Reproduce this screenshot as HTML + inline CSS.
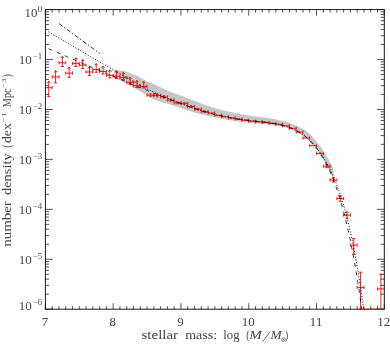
<!DOCTYPE html>
<html><head><meta charset="utf-8"><title>plot</title>
<style>
html,body{margin:0;padding:0;background:#fff;}
body{width:390px;height:351px;position:relative;overflow:hidden;}
svg{display:block}
</style></head><body>
<svg width="390" height="351" viewBox="0 0 390 351" style="position:absolute;left:0;top:0">
<rect width="390" height="351" fill="#fff"/>
<polygon fill="#c6c6c6" points="114.4,70.3 124.7,70.9 137.5,76.0 146.5,81.2 155.4,84.8 165.0,89.6 170.8,92.0 180.4,95.4 186.2,97.7 195.8,101.5 205.4,104.9 211.2,106.9 220.8,109.7 225.0,110.8 236.2,113.3 250.0,115.8 255.4,116.4 270.8,118.4 286.2,121.5 297.1,126.0 304.0,129.6 309.8,134.0 315.5,140.2 320.9,147.1 325.5,154.0 329.4,161.0 333.0,167.4 333.8,173.6 333.6,177.7 332.5,177.7 331.0,173.6 327.4,166.6 323.2,159.9 315.5,148.7 308.6,140.7 304.0,136.8 299.1,133.4 292.3,130.0 286.2,127.6 270.8,124.8 255.4,123.4 250.0,123.1 236.2,121.2 225.0,119.2 220.8,118.5 211.2,116.6 205.4,115.3 195.8,113.1 186.2,109.7 180.4,107.7 170.8,104.8 165.0,103.1 158.0,101.0 151.6,98.5 142.6,92.7 133.6,87.6 124.7,82.4 114.4,78.0"/>
<clipPath id="c"><rect x="45.4" y="9.6" width="338.90000000000003" height="300.09999999999997"/></clipPath>
<g clip-path="url(#c)" fill="none" stroke="#f00" stroke-width="0.9">
<path d="M45.40,87.70H52.18M45.40,86.10V89.30M52.18,86.10V89.30M48.79,81.20V96.70M47.29,83.00L48.79,81.20L50.29,83.00M47.19,96.70H50.39M52.18,76.90H58.96M52.18,75.30V78.50M58.96,75.30V78.50M55.57,70.60V82.90M54.07,72.40L55.57,70.60L57.07,72.40M53.97,82.90H57.17M58.95,62.80H65.73M58.95,61.20V64.40M65.73,61.20V64.40M62.34,56.30V66.50M60.84,58.10L62.34,56.30L63.84,58.10M60.74,66.50H63.95M65.73,73.10H72.51M65.73,71.50V74.70M72.51,71.50V74.70M69.12,66.90V77.40M67.62,68.70L69.12,66.90L70.62,68.70M67.52,77.40H70.72M72.51,63.40H79.29M72.51,61.80V65.00M79.29,61.80V65.00M75.90,57.70V66.50M74.40,59.50L75.90,57.70L77.40,59.50M74.30,66.50H77.50M79.29,65.10H86.07M79.29,63.50V66.70M86.07,63.50V66.70M82.68,59.50V68.50M81.18,61.30L82.68,59.50L84.18,61.30M81.08,68.50H84.28M86.07,72.00H92.85M86.07,70.40V73.60M92.85,70.40V73.60M89.46,66.50V75.40M87.96,68.30L89.46,66.50L90.96,68.30M87.86,75.40H91.06M92.84,69.50H99.62M92.84,67.90V71.10M99.62,67.90V71.10M96.23,63.50V72.30M94.73,65.30L96.23,63.50L97.73,65.30M94.64,72.30H97.83M99.62,71.50H106.40M99.62,69.90V73.10M106.40,69.90V73.10M103.01,66.00V74.00M101.51,67.80L103.01,66.00L104.51,67.80M101.41,74.00H104.61M106.40,75.40H113.18M106.40,73.80V77.00M113.18,73.80V77.00M109.79,69.90V77.90M108.29,71.70L109.79,69.90L111.29,71.70M108.19,77.90H111.39M113.18,76.20H119.96M113.18,74.60V77.80M119.96,74.60V77.80M116.57,70.70V78.40M115.07,72.50L116.57,70.70L118.07,72.50M114.97,78.40H118.17M119.96,77.70H126.74M119.96,76.10V79.30M126.74,76.10V79.30M123.35,72.20V79.70M121.85,74.00L123.35,72.20L124.85,74.00M121.75,79.70H124.95M126.73,82.30H133.51M126.73,80.70V83.90M133.51,80.70V83.90M130.12,77.00V84.30M128.62,78.80L130.12,77.00L131.62,78.80M128.53,84.30H131.72M133.51,85.70H140.29M133.51,84.10V87.30M140.29,84.10V87.30M136.90,80.40V87.50M135.40,82.20L136.90,80.40L138.40,82.20M135.30,87.50H138.50M140.29,86.40H147.07M140.29,84.80V88.00M147.07,84.80V88.00M143.68,81.40V88.00M142.18,83.20L143.68,81.40L145.18,83.20M142.08,88.00H145.28M147.07,95.20H153.85M147.07,93.60V96.80M153.85,93.60V96.80M150.46,93.80V96.60M149.36,93.80H151.56M149.36,96.60H151.56M153.85,95.50H160.63M153.85,93.90V97.10M160.63,93.90V97.10M157.24,94.10V96.90M156.14,94.10H158.34M156.14,96.90H158.34M160.63,96.90H167.41M160.63,95.30V98.50M167.41,95.30V98.50M164.02,95.70V98.10M162.92,95.70H165.12M162.92,98.10H165.12M167.40,100.00H174.18M167.40,98.40V101.60M174.18,98.40V101.60M170.79,98.90V101.10M169.69,98.90H171.89M169.69,101.10H171.89M174.18,102.80H180.96M174.18,101.20V104.40M180.96,101.20V104.40M177.57,101.80V103.80M176.47,101.80H178.67M176.47,103.80H178.67M180.96,103.40H187.74M180.96,101.80V105.00M187.74,101.80V105.00M184.35,102.50V104.30M183.25,102.50H185.45M183.25,104.30H185.45M187.74,106.50H194.52M187.74,104.90V108.10M194.52,104.90V108.10M191.13,105.60V107.40M190.03,105.60H192.23M190.03,107.40H192.23M194.52,109.20H201.30M194.52,107.60V110.80M201.30,107.60V110.80M197.91,108.40V110.00M196.81,108.40H199.01M196.81,110.00H199.01M201.29,111.60H208.07M201.29,110.00V113.20M208.07,110.00V113.20M204.68,110.85V112.35M203.58,110.85H205.78M203.58,112.35H205.78M208.07,113.00H214.85M208.07,111.40V114.60M214.85,111.40V114.60M214.85,115.30H221.63M214.85,113.70V116.90M221.63,113.70V116.90M221.63,116.70H228.41M221.63,115.10V118.30M228.41,115.10V118.30M228.41,117.90H235.19M228.41,116.30V119.50M235.19,116.30V119.50M235.18,119.20H241.96M235.18,117.60V120.80M241.96,117.60V120.80M241.96,120.30H248.74M241.96,118.70V121.90M248.74,118.70V121.90M248.74,121.20H255.52M248.74,119.60V122.80M255.52,119.60V122.80M255.52,121.90H262.30M255.52,120.30V123.50M262.30,120.30V123.50M262.30,122.40H269.07M262.30,120.80V124.00M269.07,120.80V124.00M269.07,123.50H275.85M269.07,121.90V125.10M275.85,121.90V125.10M275.85,124.20H282.63M275.85,122.60V125.80M282.63,122.60V125.80M282.63,125.80H289.41M282.63,124.20V127.40M289.41,124.20V127.40M289.41,128.30H296.19M289.41,126.70V129.90M296.19,126.70V129.90M296.19,132.10H302.97M296.19,130.50V133.70M302.97,130.50V133.70M302.96,138.00H309.74M302.96,136.40V139.60M309.74,136.40V139.60M309.74,145.70H316.52M309.74,144.10V147.30M316.52,144.10V147.30M316.52,153.50H323.30M316.52,151.90V155.10M323.30,151.90V155.10M323.30,166.20H330.08M323.30,164.60V167.80M330.08,164.60V167.80M326.69,164.70V167.70M325.09,164.70H328.29M325.09,167.70H328.29M330.07,180.00H336.85M330.07,178.40V181.60M336.85,178.40V181.60M333.46,178.00V182.00M331.86,178.00H335.06M331.86,182.00H335.06M336.85,198.50H343.63M336.85,196.90V200.10M343.63,196.90V200.10M340.24,195.90V201.30M338.64,195.90H341.84M338.64,201.30H341.84M343.63,215.10H350.41M343.63,213.50V216.70M350.41,213.50V216.70M347.02,211.90V218.70M345.42,211.90H348.62M345.42,218.70H348.62M350.41,245.10H357.19M350.41,243.50V246.70M357.19,243.50V246.70M353.80,238.50V254.20M352.20,238.50H355.40M352.20,254.20H355.40M357.19,287.40H363.97M357.19,285.80V289.00M363.97,285.80V289.00M360.58,272.20V687.40M358.98,272.20H362.18M358.98,687.40H362.18M377.52,288.90H384.30M377.52,287.30V290.50M384.30,287.30V290.50M380.91,274.30V688.90M379.31,274.30H382.51M379.31,688.90H382.51"/>
</g>
<g clip-path="url(#c)" fill="none" stroke="#000" stroke-width="0.8">
<path d="M48.59,48.83 L49.94,49.41 L51.30,49.98 L52.65,50.56 L54.01,51.14 L55.36,51.72 L56.72,52.30 L58.07,52.88 L59.43,53.46 L60.79,54.03 L62.14,54.61 L63.50,55.19 L64.85,55.77 L66.21,56.35 L67.56,56.93 L68.92,57.50 L70.28,58.08 L71.63,58.66 L72.99,59.24 L74.34,59.82 L75.70,60.39 L77.05,60.97 L78.41,61.55 L79.76,62.13 L81.12,62.70 L82.48,63.28 L83.83,63.86 L85.19,64.44 L86.54,65.01 L87.90,65.59 L89.25,66.17 L90.61,66.74 L91.96,67.32 L93.32,67.89 L94.68,68.47 L96.03,69.05 L97.39,69.62 L98.74,70.20 L100.10,70.77 L101.45,71.35 L102.81,71.92 L104.17,72.50 L105.52,73.07 L106.88,73.65 L108.23,74.22 L109.59,74.79 L110.94,75.37 L112.30,75.94 L113.65,76.51 L115.01,77.09 L116.37,77.66 L117.72,78.23 L119.08,78.80 L120.43,79.37 L121.79,79.94 L123.14,80.51 L124.50,81.08 L125.85,81.65 L127.21,82.22 L128.57,82.79 L129.92,83.35 L131.28,83.92 L132.63,84.48 L133.99,85.05 L135.34,85.61 L136.70,86.18 L138.06,86.74 L139.41,87.30 L140.77,87.86 L142.12,88.42 L143.48,88.98 L144.83,89.54 L146.19,90.09 L147.54,90.65 L148.90,91.20 L150.26,91.76 L151.61,92.31 L152.97,92.86 L154.32,93.40 L155.68,93.95 L157.03,94.50 L158.39,95.04 L159.74,95.58 L161.10,96.12 L162.46,96.66 L163.81,97.19 L165.17,97.72 L166.52,98.25 L167.88,98.78 L169.23,99.31 L170.59,99.83 L171.95,100.35 L173.30,100.87 L174.66,101.38 L176.01,101.89 L177.37,102.40 L178.72,102.90 L180.08,103.40 L181.43,103.90 L182.79,104.39 L184.15,104.88 L185.50,105.36 L186.86,105.84 L188.21,106.32 L189.57,106.79 L190.92,107.25 L192.28,107.71 L193.63,108.16 L194.99,108.61 L196.35,109.06 L197.70,109.49 L199.06,109.92 L200.41,110.35 L201.77,110.77 L203.12,111.18 L204.48,111.58 L205.84,111.98 L207.19,112.37 L208.55,112.75 L209.90,113.13 L211.26,113.50 L212.61,113.85 L213.97,114.21 L215.32,114.55 L216.68,114.88 L218.04,115.21 L219.39,115.53 L220.75,115.84 L222.10,116.14 L223.46,116.43 L224.81,116.72 L226.17,116.99 L227.52,117.26 L228.88,117.51 L230.24,117.76 L231.59,118.00 L232.95,118.24 L234.30,118.46 L235.66,118.68 L237.01,118.89 L238.37,119.09 L239.73,119.28 L241.08,119.47 L242.44,119.65 L243.79,119.83 L245.15,120.00 L246.50,120.16 L247.86,120.32 L249.21,120.48 L250.57,120.63 L251.93,120.78 L253.28,120.93 L254.64,121.07 L255.99,121.22 L257.35,121.36 L258.70,121.51 L260.06,121.65 L261.41,121.80 L262.77,121.96 L264.13,122.12 L265.48,122.28 L266.84,122.45 L268.19,122.63 L269.55,122.82 L270.90,123.01 L272.26,123.22 L273.62,123.45 L274.97,123.68 L276.33,123.93 L277.68,124.20 L279.04,124.49 L280.39,124.80 L281.75,125.13 L283.10,125.48 L284.46,125.86 L285.82,126.27 L287.17,126.70 L288.53,127.17 L289.88,127.67 L291.24,128.20 L292.59,128.77 L293.95,129.38 L295.30,130.04 L296.66,130.74 L298.02,131.48 L299.37,132.28 L300.73,133.13 L302.08,134.03 L303.44,135.00 L304.79,136.02 L306.15,137.11 L307.51,138.27 L308.86,139.50 L310.22,140.81 L311.57,142.20 L312.93,143.67 L314.28,145.23 L315.64,146.88 L316.99,148.63 L318.35,150.48 L319.71,152.44 L321.06,154.52 L322.42,156.71 L323.77,159.02 L325.13,161.47 L326.48,164.05 L327.84,166.77 L329.19,169.65 L330.55,172.68 L331.91,175.88 L333.26,179.25 L334.62,182.80 L335.97,186.54 L337.33,190.48 L338.68,194.63 L340.04,198.99 L341.40,203.59 L342.75,208.42 L344.11,213.51 L345.46,218.86 L346.82,224.48 L348.17,230.39 L349.53,236.61 L350.88,243.14 L352.24,250.00 L353.60,257.22 L354.95,264.79 L356.31,272.75 L357.66,281.10 L359.02,289.87 L360.37,299.08 L361.73,308.75 L363.08,318.90 L364.44,324.18" stroke-dasharray="4.0 4.75"/>
<path d="M48.45,31.80 L49.81,32.60 L51.16,33.39 L52.52,34.19 L53.87,34.99 L55.23,35.79 L56.58,36.59 L57.94,37.39 L59.29,38.18 L60.65,38.98 L62.01,39.78 L63.36,40.58 L64.72,41.38 L66.07,42.17 L67.43,42.97 L68.78,43.77 L70.14,44.57 L71.50,45.36 L72.85,46.16 L74.21,46.96 L75.56,47.76 L76.92,48.55 L78.27,49.35 L79.63,50.15 L80.98,50.95 L82.34,51.74 L83.70,52.54 L85.05,53.34 L86.41,54.13 L87.76,54.93 L89.12,55.72 L90.47,56.52 L91.83,57.32 L93.18,58.11 L94.54,58.91 L95.90,59.70 L97.25,60.50 L98.61,61.29 L99.96,62.09 L101.32,62.88 L102.67,63.67 L104.03,64.47 L105.39,65.26 L106.74,66.05 L108.10,66.84 L109.45,67.63 L110.81,68.42 L112.16,69.21 L113.52,70.00 L114.87,70.79 L116.23,71.58 L117.59,72.36 L118.94,73.15 L120.30,73.93 L121.65,74.71 L123.01,75.49 L124.36,76.27 L125.72,77.05 L127.07,77.82 L128.43,78.60 L129.79,79.37 L131.14,80.13 L132.50,80.90 L133.85,81.65 L135.21,82.41 L136.56,83.16 L137.92,83.91 L139.28,84.65 L140.63,85.38 L141.99,86.11 L143.34,86.83 L144.70,87.55 L146.05,88.26 L147.41,88.96 L148.76,89.65 L150.12,90.33 L151.48,91.01 L152.83,91.67 L154.19,92.33 L155.54,92.97 L156.90,93.61 L158.25,94.24 L159.61,94.86 L160.96,95.47 L162.32,96.07 L163.68,96.67 L165.03,97.26 L166.39,97.83 L167.74,98.40 L169.10,98.97 L170.45,99.53 L171.81,100.08 L173.17,100.62 L174.52,101.16 L175.88,101.69 L177.23,102.22 L178.59,102.74 L179.94,103.25 L181.30,103.76 L182.65,104.26 L184.01,104.76 L185.37,105.26 L186.72,105.74 L188.08,106.22 L189.43,106.70 L190.79,107.17 L192.14,107.64 L193.50,108.09 L194.85,108.55 L196.21,108.99 L197.57,109.43 L198.92,109.87 L200.28,110.29 L201.63,110.71 L202.99,111.13 L204.34,111.53 L205.70,111.93 L207.06,112.32 L208.41,112.71 L209.77,113.09 L211.12,113.45 L212.48,113.82 L213.83,114.17 L215.19,114.51 L216.54,114.85 L217.90,115.18 L219.26,115.50 L220.61,115.81 L221.97,116.11 L223.32,116.40 L224.68,116.69 L226.03,116.96 L227.39,117.23 L228.74,117.49 L230.10,117.74 L231.46,117.98 L232.81,118.21 L234.17,118.44 L235.52,118.66 L236.88,118.87 L238.23,119.07 L239.59,119.26 L240.95,119.45 L242.30,119.63 L243.66,119.81 L245.01,119.98 L246.37,120.15 L247.72,120.31 L249.08,120.46 L250.43,120.61 L251.79,120.76 L253.15,120.91 L254.50,121.06 L255.86,121.20 L257.21,121.35 L258.57,121.49 L259.92,121.64 L261.28,121.79 L262.63,121.94 L263.99,122.10 L265.35,122.26 L266.70,122.43 L268.06,122.61 L269.41,122.80 L270.77,122.99 L272.12,123.20 L273.48,123.42 L274.84,123.66 L276.19,123.91 L277.55,124.18 L278.90,124.46 L280.26,124.77 L281.61,125.09 L282.97,125.45 L284.32,125.82 L285.68,126.22 L287.04,126.66 L288.39,127.12 L289.75,127.62 L291.10,128.15 L292.46,128.71 L293.81,129.32 L295.17,129.97 L296.52,130.67 L297.88,131.41 L299.24,132.20 L300.59,133.04 L301.95,133.94 L303.30,134.90 L304.66,135.91 L306.01,137.00 L307.37,138.15 L308.73,139.37 L310.08,140.67 L311.44,142.04 L312.79,143.48 L314.15,144.99 L315.50,146.58 L316.86,148.25 L318.21,150.00 L319.57,151.83 L320.93,153.76 L322.28,155.78 L323.64,157.90 L324.99,160.12 L326.35,162.46 L327.70,164.91 L329.06,167.48 L330.41,170.19 L331.77,173.03 L333.13,176.02 L334.48,179.16 L335.84,182.47 L337.19,185.96 L338.55,189.62 L339.90,193.49 L341.26,197.57 L342.62,201.88 L343.97,206.43 L345.33,211.24 L346.68,216.33 L348.04,221.71 L349.39,227.42 L350.75,233.46 L352.10,239.83 L353.46,246.53 L354.82,253.57 L356.17,260.96 L357.53,268.72 L358.88,276.87 L360.24,285.43 L361.59,294.42 L362.95,303.86 L364.30,313.76 L365.66,324.16 L367.02,324.18" stroke-dasharray="1.05 1.8" stroke-width="0.95"/>
<path d="M58.9,23.5 L99.9,53.6" stroke-dasharray="4.6 2.0 1.2 2.06"/>
</g>
<g fill="none" stroke="#111" stroke-width="0.95">
<path stroke-width="0.72" d="M45.40,309.2v-6M45.40,9.6v6M52.18,309.2v-3M52.18,9.6v3M58.96,309.2v-3M58.96,9.6v3M65.73,309.2v-3M65.73,9.6v3M72.51,309.2v-3M72.51,9.6v3M79.29,309.2v-3M79.29,9.6v3M86.07,309.2v-3M86.07,9.6v3M92.85,309.2v-3M92.85,9.6v3M99.62,309.2v-3M99.62,9.6v3M106.40,309.2v-3M106.40,9.6v3M113.18,309.2v-6M113.18,9.6v6M119.96,309.2v-3M119.96,9.6v3M126.74,309.2v-3M126.74,9.6v3M133.51,309.2v-3M133.51,9.6v3M140.29,309.2v-3M140.29,9.6v3M147.07,309.2v-3M147.07,9.6v3M153.85,309.2v-3M153.85,9.6v3M160.63,309.2v-3M160.63,9.6v3M167.40,309.2v-3M167.40,9.6v3M174.18,309.2v-3M174.18,9.6v3M180.96,309.2v-6M180.96,9.6v6M187.74,309.2v-3M187.74,9.6v3M194.52,309.2v-3M194.52,9.6v3M201.29,309.2v-3M201.29,9.6v3M208.07,309.2v-3M208.07,9.6v3M214.85,309.2v-3M214.85,9.6v3M221.63,309.2v-3M221.63,9.6v3M228.41,309.2v-3M228.41,9.6v3M235.18,309.2v-3M235.18,9.6v3M241.96,309.2v-3M241.96,9.6v3M248.74,309.2v-6M248.74,9.6v6M255.52,309.2v-3M255.52,9.6v3M262.30,309.2v-3M262.30,9.6v3M269.07,309.2v-3M269.07,9.6v3M275.85,309.2v-3M275.85,9.6v3M282.63,309.2v-3M282.63,9.6v3M289.41,309.2v-3M289.41,9.6v3M296.19,309.2v-3M296.19,9.6v3M302.96,309.2v-3M302.96,9.6v3M309.74,309.2v-3M309.74,9.6v3M316.52,309.2v-6M316.52,9.6v6M323.30,309.2v-3M323.30,9.6v3M330.08,309.2v-3M330.08,9.6v3M336.85,309.2v-3M336.85,9.6v3M343.63,309.2v-3M343.63,9.6v3M350.41,309.2v-3M350.41,9.6v3M357.19,309.2v-3M357.19,9.6v3M363.97,309.2v-3M363.97,9.6v3M370.74,309.2v-3M370.74,9.6v3M377.52,309.2v-3M377.52,9.6v3M384.30,309.2v-6M384.30,9.6v6M45.4,9.60h7.4M384.3,9.60h-7.4M45.4,59.53h7.4M384.3,59.53h-7.4M45.4,44.50h3.6M384.3,44.50h-3.6M45.4,35.71h3.6M384.3,35.71h-3.6M45.4,29.47h3.6M384.3,29.47h-3.6M45.4,24.63h3.6M384.3,24.63h-3.6M45.4,20.68h3.6M384.3,20.68h-3.6M45.4,17.33h3.6M384.3,17.33h-3.6M45.4,14.44h3.6M384.3,14.44h-3.6M45.4,11.88h3.6M384.3,11.88h-3.6M45.4,109.47h7.4M384.3,109.47h-7.4M45.4,94.44h3.6M384.3,94.44h-3.6M45.4,85.64h3.6M384.3,85.64h-3.6M45.4,79.40h3.6M384.3,79.40h-3.6M45.4,74.56h3.6M384.3,74.56h-3.6M45.4,70.61h3.6M384.3,70.61h-3.6M45.4,67.27h3.6M384.3,67.27h-3.6M45.4,64.37h3.6M384.3,64.37h-3.6M45.4,61.82h3.6M384.3,61.82h-3.6M45.4,159.40h7.4M384.3,159.40h-7.4M45.4,144.37h3.6M384.3,144.37h-3.6M45.4,135.58h3.6M384.3,135.58h-3.6M45.4,129.34h3.6M384.3,129.34h-3.6M45.4,124.50h3.6M384.3,124.50h-3.6M45.4,120.54h3.6M384.3,120.54h-3.6M45.4,117.20h3.6M384.3,117.20h-3.6M45.4,114.31h3.6M384.3,114.31h-3.6M45.4,111.75h3.6M384.3,111.75h-3.6M45.4,209.33h7.4M384.3,209.33h-7.4M45.4,194.30h3.6M384.3,194.30h-3.6M45.4,185.51h3.6M384.3,185.51h-3.6M45.4,179.27h3.6M384.3,179.27h-3.6M45.4,174.43h3.6M384.3,174.43h-3.6M45.4,170.48h3.6M384.3,170.48h-3.6M45.4,167.13h3.6M384.3,167.13h-3.6M45.4,164.24h3.6M384.3,164.24h-3.6M45.4,161.68h3.6M384.3,161.68h-3.6M45.4,259.27h7.4M384.3,259.27h-7.4M45.4,244.24h3.6M384.3,244.24h-3.6M45.4,235.44h3.6M384.3,235.44h-3.6M45.4,229.20h3.6M384.3,229.20h-3.6M45.4,224.36h3.6M384.3,224.36h-3.6M45.4,220.41h3.6M384.3,220.41h-3.6M45.4,217.07h3.6M384.3,217.07h-3.6M45.4,214.17h3.6M384.3,214.17h-3.6M45.4,211.62h3.6M384.3,211.62h-3.6M45.4,309.20h7.4M384.3,309.20h-7.4M45.4,294.17h3.6M384.3,294.17h-3.6M45.4,285.38h3.6M384.3,285.38h-3.6M45.4,279.14h3.6M384.3,279.14h-3.6M45.4,274.30h3.6M384.3,274.30h-3.6M45.4,270.34h3.6M384.3,270.34h-3.6M45.4,267.00h3.6M384.3,267.00h-3.6M45.4,264.11h3.6M384.3,264.11h-3.6M45.4,261.55h3.6M384.3,261.55h-3.6"/>
<rect x="45.4" y="9.6" width="338.90000000000003" height="299.59999999999997"/>
</g>
<path d="M358.8,309.2H382.4" stroke="#f00" stroke-width="1" fill="none"/>
<g font-family="&quot;Liberation Serif&quot;, serif" font-size="11.7" fill="#464646" style="filter:grayscale(1)">
<text x="41.75" y="325.5" textLength="6.4" lengthAdjust="spacingAndGlyphs" >7</text>
<text x="109.53" y="325.5" textLength="6.4" lengthAdjust="spacingAndGlyphs" >8</text>
<text x="177.31" y="325.5" textLength="6.4" lengthAdjust="spacingAndGlyphs" >9</text>
<text x="241.69" y="325.5" textLength="13.0" lengthAdjust="spacingAndGlyphs" >10</text>
<text x="309.47" y="325.5" textLength="13.0" lengthAdjust="spacingAndGlyphs" >11</text>
<text x="377.25" y="325.5" textLength="13.0" lengthAdjust="spacingAndGlyphs" >12</text>
<text x="24.55" y="17.4" textLength="12.9" lengthAdjust="spacingAndGlyphs" >10</text>
<text x="37.45" y="12.05" textLength="4.9" lengthAdjust="spacingAndGlyphs" font-size="7.2">0</text>
<text x="18.85" y="64.13" textLength="13.0" lengthAdjust="spacingAndGlyphs" >10</text>
<text x="32.8" y="58.83" textLength="9.4" lengthAdjust="spacingAndGlyphs" font-size="7.2">&#8722;1</text>
<text x="18.85" y="114.07" textLength="13.0" lengthAdjust="spacingAndGlyphs" >10</text>
<text x="32.8" y="108.77" textLength="9.4" lengthAdjust="spacingAndGlyphs" font-size="7.2">&#8722;2</text>
<text x="18.85" y="164.0" textLength="13.0" lengthAdjust="spacingAndGlyphs" >10</text>
<text x="32.8" y="158.7" textLength="9.4" lengthAdjust="spacingAndGlyphs" font-size="7.2">&#8722;3</text>
<text x="18.85" y="213.93" textLength="13.0" lengthAdjust="spacingAndGlyphs" >10</text>
<text x="32.8" y="208.63" textLength="9.4" lengthAdjust="spacingAndGlyphs" font-size="7.2">&#8722;4</text>
<text x="18.85" y="263.87" textLength="13.0" lengthAdjust="spacingAndGlyphs" >10</text>
<text x="32.8" y="258.57" textLength="9.4" lengthAdjust="spacingAndGlyphs" font-size="7.2">&#8722;5</text>
<text x="18.85" y="310.0" textLength="13.0" lengthAdjust="spacingAndGlyphs" >10</text>
<text x="32.8" y="304.7" textLength="9.4" lengthAdjust="spacingAndGlyphs" font-size="7.2">&#8722;6</text>
<text x="141.5" y="338.5" textLength="36.6" lengthAdjust="spacingAndGlyphs" >stellar</text>
<text x="185.2" y="338.5" textLength="32.0" lengthAdjust="spacingAndGlyphs" >mass:</text>
<text x="223.3" y="338.5" textLength="16.2" lengthAdjust="spacingAndGlyphs" >log</text>
<text x="246.3" y="338.5" textLength="3.2" lengthAdjust="spacingAndGlyphs" >(</text>
<text x="249.3" y="338.5" textLength="12.6" lengthAdjust="spacingAndGlyphs" font-style="italic">M</text>
<text x="270.5" y="338.5" textLength="11.2" lengthAdjust="spacingAndGlyphs" font-style="italic">M</text>
<text x="285.0" y="338.5" textLength="3.2" lengthAdjust="spacingAndGlyphs" >)</text>
<path d="M262.6,341.8L270.2,331.6" stroke="#464646" stroke-width="0.8" fill="none"/>
<circle cx="283.5" cy="339.5" r="1.75" stroke="#464646" stroke-width="0.75" fill="none"/><circle cx="283.5" cy="339.5" r="0.5" fill="#464646"/>
<text transform="translate(10.5,246.8) rotate(-90)" textLength="45.6" lengthAdjust="spacingAndGlyphs" >number</text>
<text transform="translate(10.5,195.0) rotate(-90)" textLength="41.6" lengthAdjust="spacingAndGlyphs" >density</text>
<text transform="translate(10.5,147.8) rotate(-90)" textLength="3.2" lengthAdjust="spacingAndGlyphs" >(</text>
<text transform="translate(10.5,143.0) rotate(-90)" textLength="19.8" lengthAdjust="spacingAndGlyphs" >dex</text>
<text transform="translate(6.3,122.0) rotate(-90)" textLength="9.4" lengthAdjust="spacingAndGlyphs" font-size="7.0">&#8722;1</text>
<text transform="translate(10.5,107.2) rotate(-90)" textLength="18.9" lengthAdjust="spacingAndGlyphs" >Mpc</text>
<text transform="translate(6.3,87.8) rotate(-90)" textLength="9.4" lengthAdjust="spacingAndGlyphs" font-size="7.0">&#8722;3</text>
<text transform="translate(10.5,77.3) rotate(-90)" textLength="3.2" lengthAdjust="spacingAndGlyphs" >)</text>
</g>
</svg>
</body></html>
